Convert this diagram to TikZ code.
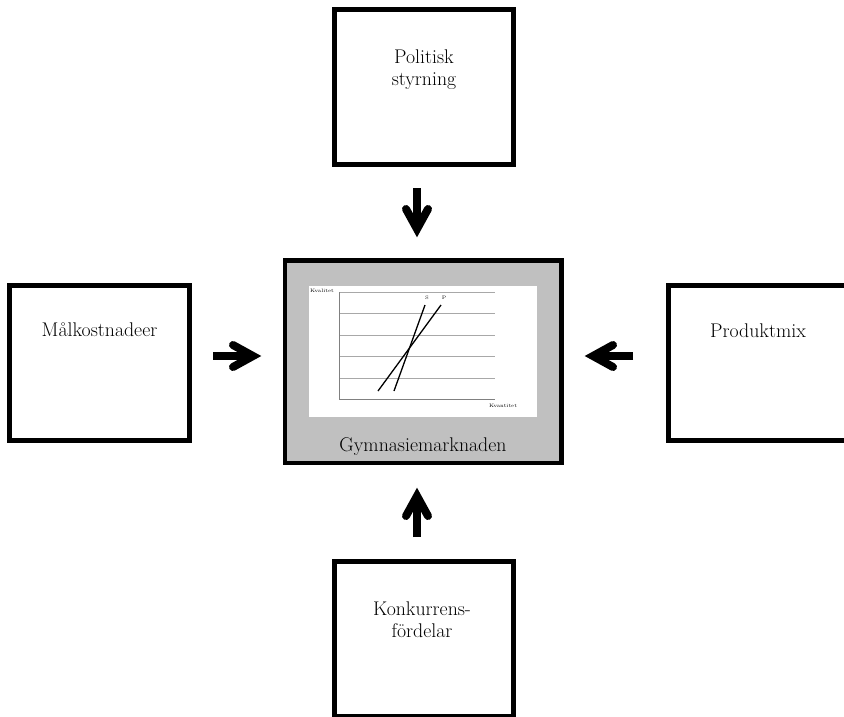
\documentclass[tikz,border=0pt]{standalone}
\usepackage{fontspec}
\definecolor{panelgray}{HTML}{C0C0C0}
\definecolor{gridgray}{HTML}{A8A8A8}
\definecolor{axisgray}{HTML}{808080}
\begin{document}
\begin{tikzpicture}[x=1pt,y=-1pt,
  box/.style={draw=black, line width=4.5pt, fill=white, inner sep=0pt, minimum width=180pt, minimum height=155pt},
  lbl/.style={font=\fontsize{19.8}{22}\selectfont, anchor=base, inner sep=0pt},
  tinylbl/.style={font=\fontsize{5}{6}\selectfont, inner sep=0pt},
  shaft/.style={line width=8pt, line cap=butt},
  headst/.style={line width=8pt, line cap=round, line join=miter, miter limit=10},
  gridln/.style={draw=gridgray, line width=0.8pt},
  axisln/.style={draw=axisgray, line width=0.9pt},
  curve/.style={draw=black, line width=1.3pt}]
\useasboundingbox (0,0) rectangle (844,716);
\clip (0,0) rectangle (844,716);
\fill[white] (0,0) rectangle (844,716);

% boxes
\node[box, minimum width=179pt] (top) at (424,87) {};
\node[box] (left) at (99.5,363) {};
\node[box] (right) at (758.5,363) {};
\node[box, minimum width=179pt] (bottom) at (424,639) {};
\node[box, fill=panelgray, minimum width=276.5pt, minimum height=202.5pt] (center) at (423.25,361.75) {};

% texts
\node[lbl] (t1) at (424,63) {Politisk};
\node[lbl] (t2) at (424,85) {styrning};
\node[lbl] (t3) at (99.5,336) {Målkostnadeer};
\node[lbl] (t4) at (758,337) {Produktmix};
\node[lbl] (t5) at (422,615) {Konkurrens-};
\node[lbl] (t6) at (422,637) {fördelar};
\node[lbl] (t7) at (423,451) {Gymnasiemarknaden};

% chart
\fill[white] (309,286) rectangle (537,417);
\foreach \yy in {292,313,335,356,378} {\draw[gridln] (339,\yy) -- (495,\yy);}
\draw[axisln] (339,292) -- (339,399) -- (495,399);
\draw[curve] (394,391) -- (425,305);
\draw[curve] (378,391) -- (441,305);
\node[tinylbl] (kv) at (322,291) {Kvalitet};
\node[tinylbl] (kn) at (503,406) {Kvantitet};
\node[tinylbl] (ls) at (427,298) {S};
\node[tinylbl] (lp) at (444,298) {P};

% arrows
\coordinate (aLs) at (213,356); \coordinate (aLv) at (253,356);
\draw[shaft] (aLs) -- (aLv);
\draw[headst] (233,345) -- (aLv) -- (233,367);

\coordinate (aRs) at (633,356); \coordinate (aRv) at (593,356);
\draw[shaft] (aRs) -- (aRv);
\draw[headst] (613,345) -- (aRv) -- (613,367);

\coordinate (aTs) at (417,188); \coordinate (aTv) at (417,229);
\draw[shaft] (aTs) -- (aTv);
\draw[headst] (406,209) -- (aTv) -- (428,209);

\coordinate (aBs) at (417,537); \coordinate (aBv) at (417,496);
\draw[shaft] (aBs) -- (aBv);
\draw[headst] (406,516) -- (aBv) -- (428,516);
\end{tikzpicture}
\end{document}
